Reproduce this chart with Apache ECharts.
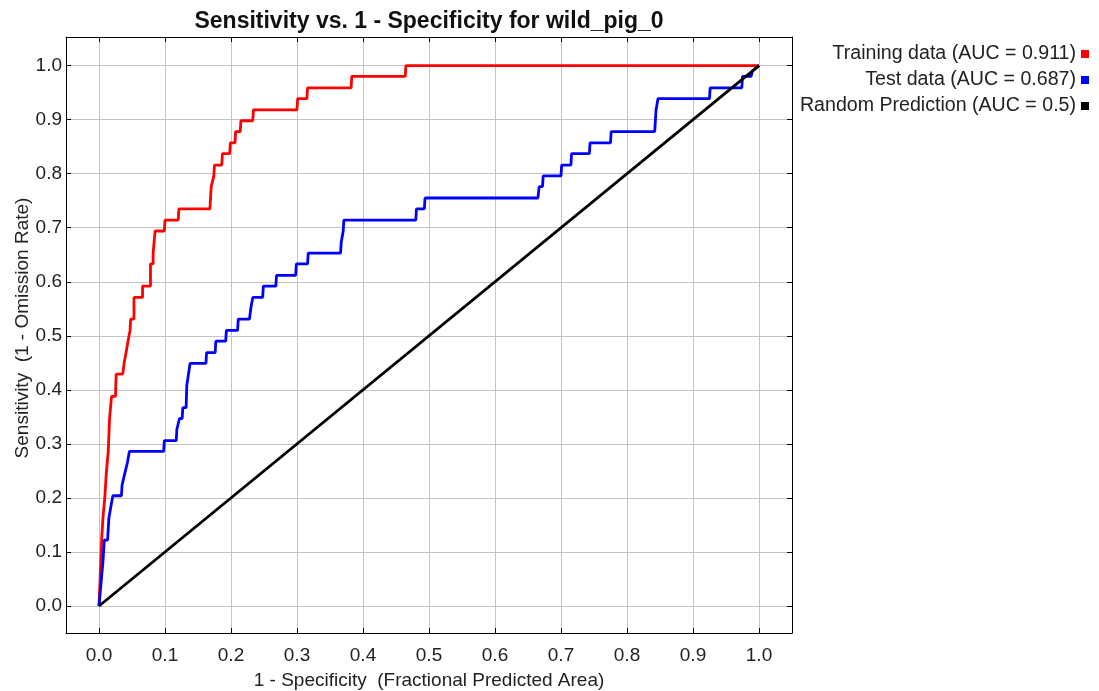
<!DOCTYPE html>
<html>
<head>
<meta charset="utf-8">
<script src="https://cdn.jsdelivr.net/npm/echarts@6/dist/echarts.min.js"></script>
<style>html,body{margin:0;padding:0;background:#fff;}#c{width:1099px;height:691px;}</style>
</head>
<body>
<div id="c"></div>
<script>
// ---- data ----
const tickValues = [0, 0.1, 0.2, 0.3, 0.4, 0.5, 0.6, 0.7, 0.8, 0.9, 1.0];

const trainX = [0, 0.002, 0.004, 0.006, 0.009, 0.011, 0.014, 0.016, 0.019, 0.025, 0.026, 0.036, 0.038, 0.041, 0.044, 0.047, 0.048, 0.053, 0.053, 0.066, 0.066, 0.078, 0.078, 0.082, 0.082, 0.085, 0.085, 0.099, 0.100, 0.120, 0.121, 0.168, 0.170, 0.174, 0.175, 0.186, 0.187, 0.198, 0.199, 0.206, 0.207, 0.214, 0.215, 0.233, 0.234, 0.300, 0.301, 0.315, 0.316, 0.382, 0.383, 0.464, 0.465, 1.0];
const trainY = [0, 0.061, 0.122, 0.163, 0.204, 0.245, 0.286, 0.347, 0.388, 0.388, 0.429, 0.429, 0.449, 0.469, 0.490, 0.510, 0.531, 0.531, 0.571, 0.571, 0.592, 0.592, 0.633, 0.633, 0.653, 0.653, 0.694, 0.694, 0.714, 0.714, 0.735, 0.735, 0.776, 0.796, 0.816, 0.816, 0.837, 0.837, 0.857, 0.857, 0.878, 0.878, 0.898, 0.898, 0.918, 0.918, 0.939, 0.939, 0.959, 0.959, 0.980, 0.980, 1.0, 1.0];

const testX = [0, 0.003, 0.006, 0.008, 0.013, 0.015, 0.018, 0.021, 0.034, 0.035, 0.038, 0.039, 0.042, 0.043, 0.046, 0.098, 0.099, 0.117, 0.118, 0.121, 0.122, 0.126, 0.127, 0.132, 0.133, 0.138, 0.162, 0.163, 0.176, 0.177, 0.192, 0.193, 0.210, 0.211, 0.228, 0.230, 0.233, 0.248, 0.249, 0.268, 0.269, 0.298, 0.299, 0.316, 0.317, 0.366, 0.367, 0.370, 0.371, 0.480, 0.481, 0.493, 0.494, 0.665, 0.667, 0.672, 0.673, 0.700, 0.701, 0.715, 0.716, 0.743, 0.744, 0.775, 0.776, 0.842, 0.844, 0.846, 0.847, 0.925, 0.926, 0.974, 0.975, 0.988, 0.990, 1.0];
const testY = [0, 0.041, 0.082, 0.122, 0.122, 0.163, 0.184, 0.204, 0.204, 0.224, 0.224, 0.245, 0.245, 0.265, 0.286, 0.286, 0.306, 0.306, 0.327, 0.327, 0.347, 0.347, 0.367, 0.367, 0.408, 0.449, 0.449, 0.469, 0.469, 0.490, 0.490, 0.510, 0.510, 0.531, 0.531, 0.551, 0.571, 0.571, 0.592, 0.592, 0.612, 0.612, 0.633, 0.633, 0.653, 0.653, 0.673, 0.694, 0.714, 0.714, 0.735, 0.735, 0.755, 0.755, 0.776, 0.776, 0.796, 0.796, 0.816, 0.816, 0.837, 0.837, 0.857, 0.857, 0.878, 0.878, 0.918, 0.918, 0.939, 0.939, 0.959, 0.959, 0.980, 0.980, 0.990, 1.0];

const randomX = [0, 1];
const randomY = [0, 1];

const seriesNames = ['Training data (AUC = 0.911)', 'Test data (AUC = 0.687)', 'Random Prediction (AUC = 0.5)'];
const seriesColors = ['#ff0000', '#0000ff', '#000000'];
const titleText = 'Sensitivity vs. 1 - Specificity for wild_pig_0';
const xName = '1 - Specificity  (Fractional Predicted Area)';
const yName = 'Sensitivity  (1 - Omission Rate)';

// ---- build ----
const zip = (a, b) => a.map((v, i) => [v, b[i]]);
const FONT = "'Liberation Sans', Arial, sans-serif";
const fmt = v => Number(v).toFixed(1);

function axisBase(showLabel) {
  return {
    type: 'value',
    min: -0.05,
    axisLine: { show: true, onZero: false, lineStyle: { color: '#000', width: 1 } },
    axisTick: { show: true, inside: true, length: 5, customValues: tickValues, lineStyle: { color: '#000', width: 1 } },
    axisLabel: { show: showLabel, customValues: tickValues, formatter: fmt, color: '#222', fontFamily: FONT, fontSize: 19 },
    splitLine: { show: showLabel, lineStyle: { color: '#c4c4c4', width: 1 } }
  };
}

const xMain = Object.assign(axisBase(true), {
  position: 'bottom', max: 1.05,
  name: xName, nameLocation: 'middle', nameGap: 38, nameMoveOverlap: false,
  nameTextStyle: { color: '#222', fontFamily: FONT, fontSize: 19 }
});
xMain.axisLabel.margin = 13;
const xTop = Object.assign(axisBase(false), { position: 'top', max: 1.05 });

const yMain = Object.assign(axisBase(true), {
  position: 'left', max: 1.053,
  name: yName, nameLocation: 'middle', nameGap: 34, nameMoveOverlap: false,
  nameTextStyle: { color: '#222', fontFamily: FONT, fontSize: 19, padding: [0, 0, 0, 14] }
});
yMain.axisLabel.margin = 4;
const yRight = Object.assign(axisBase(false), { position: 'right', max: 1.053 });

const lines = [zip(trainX, trainY), zip(testX, testY), zip(randomX, randomY)];

const chart = echarts.init(document.getElementById('c'), null, { renderer: 'canvas' });
chart.setOption({
  backgroundColor: '#ffffff',
  animation: false,
  title: {
    text: titleText, left: 429, top: 10, textAlign: 'center', padding: 0,
    textStyle: { color: '#111', fontFamily: FONT, fontWeight: 'bold', fontSize: 23 }
  },
  legend: {
    orient: 'vertical', right: 5, top: 39, align: 'right',
    itemWidth: 8, itemHeight: 8, itemGap: 6, icon: 'rect', selectedMode: false,
    textStyle: { color: '#222', fontFamily: FONT, fontSize: 19.6 },
    data: seriesNames
  },
  grid: { left: 66, top: 37, right: 307, bottom: 58, containLabel: false, outerBoundsMode: 'none' },
  xAxis: [xMain, xTop],
  yAxis: [yMain, yRight],
  series: lines.map((d, i) => ({
    name: seriesNames[i], type: 'line', data: d, xAxisIndex: 0, yAxisIndex: 0,
    symbol: 'none', showSymbol: false,
    itemStyle: { color: seriesColors[i] },
    lineStyle: { color: seriesColors[i], width: 2.8 },
    z: 2 + i
  }))
});
</script>
</body>
</html>
